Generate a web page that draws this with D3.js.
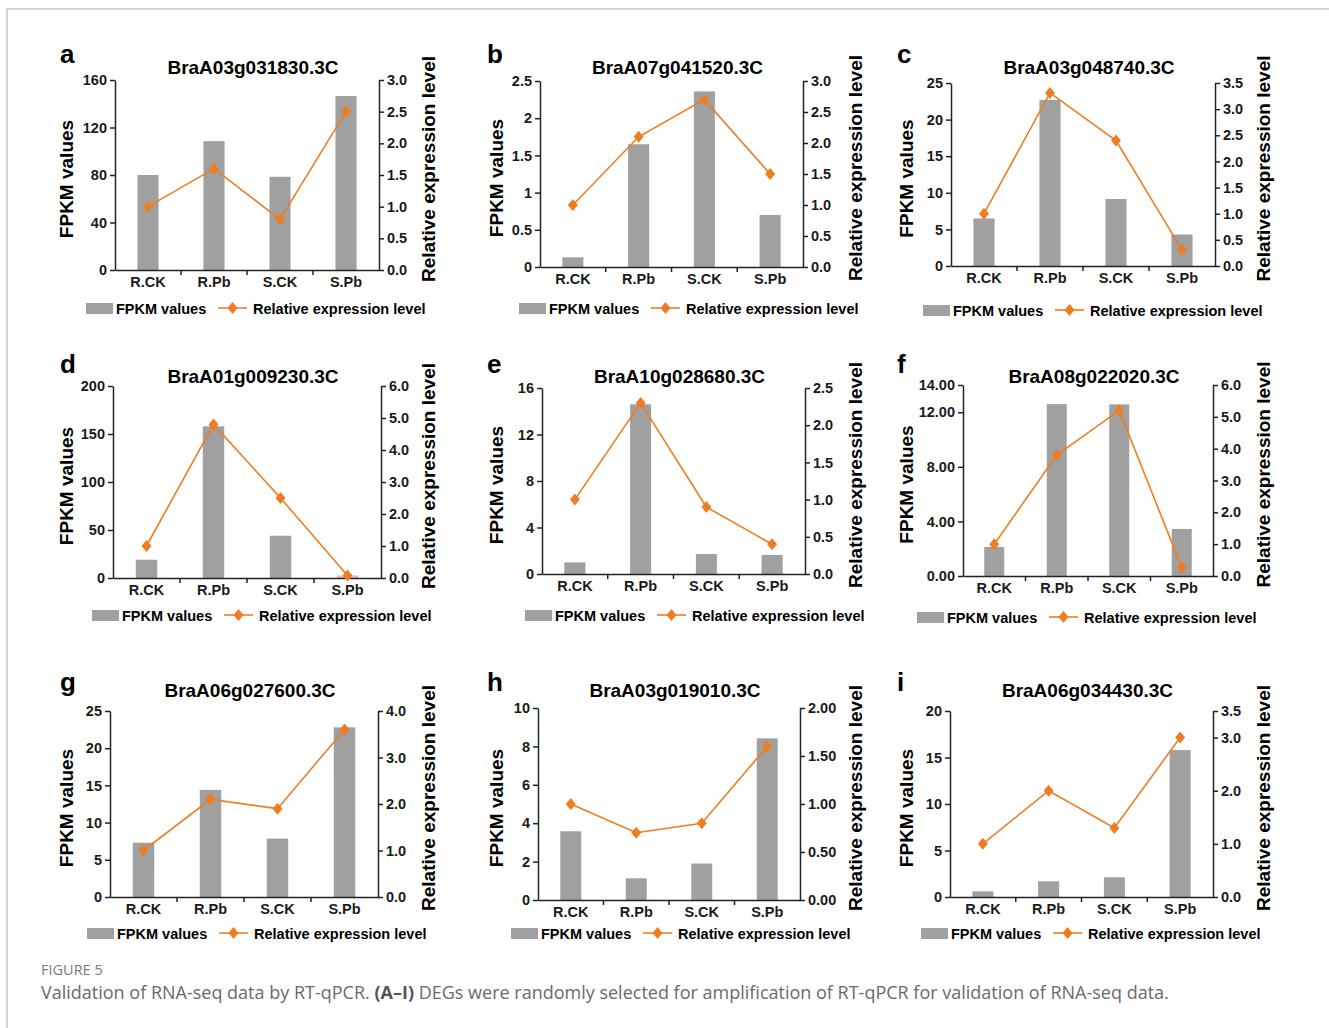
<!DOCTYPE html>
<html>
<head>
<meta charset="utf-8">
<script src="https://cdn.jsdelivr.net/npm/d3@7"></script>
<style>
  body { margin: 0; background: #fff; }
  svg text { font-family: "Liberation Sans", Arial, sans-serif; }
</style>
</head>
<body>
<script>
var width = 1329;
var height = 1028;

// data
var categories = ["R.CK", "R.Pb", "S.CK", "S.Pb"];
var letters = ["a", "b", "c", "d", "e", "f", "g", "h", "i"];
var genes = ["BraA03g031830.3C", "BraA07g041520.3C", "BraA03g048740.3C",
             "BraA01g009230.3C", "BraA10g028680.3C", "BraA08g022020.3C",
             "BraA06g027600.3C", "BraA03g019010.3C", "BraA06g034430.3C"];
var fpkm = [
  [80, 108.5, 78.5, 146.5],
  [0.13, 1.65, 2.36, 0.70],
  [6.5, 22.7, 9.15, 4.3],
  [19, 158, 44, 2.8],
  [1.0, 14.6, 1.72, 1.64],
  [2.13, 12.6, 12.58, 3.45],
  [7.3, 14.4, 7.85, 22.8],
  [3.58, 1.13, 1.9, 8.42],
  [0.61, 1.69, 2.12, 15.8]
];
var relExpr = [
  [1.0, 1.6, 0.8, 2.5],
  [1.0, 2.1, 2.7, 1.5],
  [1.0, 3.31, 2.4, 0.31],
  [1.0, 4.8, 2.5, 0.08],
  [1.0, 2.3, 0.9, 0.4],
  [1.0, 3.8, 5.2, 0.27],
  [1.0, 2.1, 1.9, 3.6],
  [1.0, 0.7, 0.8, 1.6],
  [1.0, 2.0, 1.3, 3.0]
];
var leftTicks = [
  [0, 40, 80, 120, 160],
  [0, 0.5, 1, 1.5, 2, 2.5],
  [0, 5, 10, 15, 20, 25],
  [0, 50, 100, 150, 200],
  [0, 4, 8, 12, 16],
  [0, 4, 8, 12, 14],
  [0, 5, 10, 15, 20, 25],
  [0, 2, 4, 6, 8, 10],
  [0, 5, 10, 15, 20]
];
var leftFormats = ["", "", "", "", "", ".2f", "", "", ""];
var rightTicks = [
  [0, 0.5, 1, 1.5, 2, 2.5, 3],
  [0, 0.5, 1, 1.5, 2, 2.5, 3],
  [0, 0.5, 1, 1.5, 2, 2.5, 3, 3.5],
  [0, 1, 2, 3, 4, 5, 6],
  [0, 0.5, 1, 1.5, 2, 2.5],
  [0, 1, 2, 3, 4, 5, 6],
  [0, 1, 2, 3, 4],
  [0, 0.5, 1, 1.5, 2],
  [0, 1, 2, 3, 3.5]
];
var rightFormats = [".1f", ".1f", ".1f", ".1f", ".1f", ".1f", ".1f", ".2f", ".1f"];
// bar in panel d, S.Pb is drawn pink in the original
var pinkBars = [[3, 3]];

// layout: [left axis x, right axis x, top y, bottom y]
var boxes = [
  [115, 379, 80, 270], [540, 803, 81, 267], [951, 1215, 83, 266],
  [113, 381, 386, 578], [542, 805, 388, 574], [963, 1213, 385, 576],
  [110, 378, 711, 897], [538, 800, 708, 900], [950, 1213, 711, 897]
];
var letterX = [60, 487, 897];
var letterY = [63, 373, 691];
var titleY = [74, 383, 697];
var yLabelX = [66, 496, 906];
var y2LabelX = [428, 855, 1263];
var legendX = [86, 519, 923, 92, 525, 917, 87, 511, 921];
var legendY = [308, 308, 310, 615, 615, 617, 933, 933, 933];

var barColor = "#a0a0a0";
var lineColor = "#ee7d22";
var axisColor = "#222";

var svg = d3.select("body")
            .append("svg")
            .attr("width", width)
            .attr("height", height);

// page frame
svg.append("path")
  .attr("d", "M7," + height + "V9H" + width)
  .attr("fill", "none")
  .attr("stroke", "#c4c4c4")
  .attr("stroke-width", 1.5);

var diamond = "M0,-6L5,0L0,6L-5,0Z";

letters.forEach(function(letter, i) {
  var box = boxes[i];
  var col = i % 3, row = Math.floor(i / 3);
  var x0 = box[0], x1 = box[1], yTop = box[2], yBot = box[3];

  var x = d3.scaleBand().domain(categories).range([x0, x1]).padding(0);
  var lt = leftTicks[i], rt = rightTicks[i];
  var yL = d3.scaleLinear().domain([0, lt[lt.length - 1]]).range([yBot, yTop]);
  var yR = d3.scaleLinear().domain([0, rt[rt.length - 1]]).range([yBot, yTop]);

  var g = svg.append("g");

  // bars
  var bw = x.bandwidth() * 0.32;
  g.selectAll("rect.bar")
    .data(fpkm[i])
    .enter().append("rect")
    .attr("class", "bar")
    .attr("x", function(d, j) { return x(categories[j]) + (x.bandwidth() - bw) / 2; })
    .attr("y", function(d) { return yL(d); })
    .attr("width", bw)
    .attr("height", function(d) { return yBot - yL(d); })
    .style("fill", function(d, j) {
      var pink = pinkBars.some(function(p) { return p[0] === i && p[1] === j; });
      return pink ? "#f2b9c2" : barColor;
    });

  // left axis
  var fmtL = leftFormats[i] ? d3.format(leftFormats[i]) : function(v) { return String(v); };
  var axL = g.append("g")
    .attr("transform", "translate(" + x0 + ",0)")
    .call(d3.axisLeft(yL).tickValues(lt).tickFormat(fmtL).tickSize(5).tickSizeOuter(0));

  // right axis
  var axR = g.append("g")
    .attr("transform", "translate(" + x1 + ",0)")
    .call(d3.axisRight(yR).tickValues(rt).tickFormat(d3.format(rightFormats[i])).tickSize(5).tickSizeOuter(0));

  // bottom axis: labels at band centres, ticks at band boundaries
  var axB = g.append("g")
    .attr("transform", "translate(0," + yBot + ")")
    .call(d3.axisBottom(x).tickSize(0).tickSizeOuter(0).tickPadding(7));
  axB.selectAll(".tick line").remove();
  axB.selectAll("line.sep")
    .data(categories.slice(1))
    .enter().append("line")
    .attr("class", "sep")
    .attr("x1", function(c) { return x(c); })
    .attr("x2", function(c) { return x(c); })
    .attr("y1", 0).attr("y2", 5);

  [axL, axR, axB].forEach(function(ax) {
    ax.selectAll("path.domain").attr("stroke", axisColor).attr("stroke-width", 1.5);
    ax.selectAll("line").attr("stroke", axisColor).attr("stroke-width", 1.5);
    ax.selectAll("text")
      .attr("fill", "#1a1a1a")
      .style("font-size", "14.5px")
      .style("font-weight", "bold");
  });
  axL.selectAll("text").attr("x", -8);
  axR.selectAll("text").attr("x", 8);

  // line series
  var line = d3.line()
    .x(function(d, j) { return x(categories[j]) + x.bandwidth() / 2; })
    .y(function(d) { return yR(d); });
  g.append("path")
    .datum(relExpr[i])
    .attr("d", line)
    .attr("fill", "none")
    .attr("stroke", lineColor)
    .attr("stroke-width", 1.6);
  g.selectAll("path.pt")
    .data(relExpr[i])
    .enter().append("path")
    .attr("class", "pt")
    .attr("d", diamond)
    .attr("transform", function(d, j) {
      return "translate(" + (x(categories[j]) + x.bandwidth() / 2) + "," + yR(d) + ")";
    })
    .attr("fill", lineColor);

  // panel letter and title
  g.append("text")
    .attr("x", letterX[col]).attr("y", letterY[row])
    .style("font-size", "26px").style("font-weight", "bold")
    .text(letter);
  g.append("text")
    .attr("x", (x0 + x1) / 2 + 6).attr("y", titleY[row])
    .attr("text-anchor", "middle")
    .style("font-size", "19px").style("font-weight", "bold")
    .text(genes[i]);

  // axis titles
  g.append("text")
    .attr("transform", "translate(" + yLabelX[col] + "," + ((yTop + yBot) / 2 + 4) + ") rotate(-90)")
    .attr("text-anchor", "middle")
    .attr("dominant-baseline", "central")
    .style("font-size", "19px").style("font-weight", "bold")
    .text("FPKM values");
  g.append("text")
    .attr("transform", "translate(" + y2LabelX[col] + "," + ((yTop + yBot) / 2 - 6) + ") rotate(-90)")
    .attr("text-anchor", "middle")
    .attr("dominant-baseline", "central")
    .style("font-size", "19px").style("font-weight", "bold")
    .text("Relative expression level");

  // legend
  var lx = legendX[i], ly = legendY[i];
  var leg = g.append("g").attr("transform", "translate(" + lx + "," + ly + ")");
  leg.append("rect")
    .attr("x", 0).attr("y", -5).attr("width", 27).attr("height", 11)
    .style("fill", barColor);
  leg.append("text")
    .attr("x", 30).attr("y", 6)
    .style("font-size", "14.5px").style("font-weight", "bold")
    .text("FPKM values");
  leg.append("line")
    .attr("x1", 132).attr("x2", 161).attr("y1", 0).attr("y2", 0)
    .attr("stroke", lineColor).attr("stroke-width", 1.6);
  leg.append("path")
    .attr("d", diamond)
    .attr("transform", "translate(146.5,0)")
    .attr("fill", lineColor);
  leg.append("text")
    .attr("x", 167).attr("y", 6)
    .style("font-size", "14.5px").style("font-weight", "bold")
    .text("Relative expression level");
});

// caption
svg.append("text")
  .attr("x", 41).attr("y", 975)
  .style("font-family", "'Open Sans', sans-serif")
  .style("font-size", "14.5px")
  .attr("fill", "#7a7a7a")
  .text("FIGURE 5");
var cap = svg.append("text")
  .attr("x", 41).attr("y", 999)
  .style("font-family", "'Open Sans', sans-serif")
  .style("font-size", "18px")
  .attr("fill", "#6a6a6a");
cap.append("tspan").text("Validation of RNA-seq data by RT-qPCR. ");
cap.append("tspan").style("font-weight", "bold").attr("fill", "#555").text("(A\u2013I)");
cap.append("tspan").text(" DEGs were randomly selected for amplification of RT-qPCR for validation of RNA-seq data.");
</script>
</body>
</html>
